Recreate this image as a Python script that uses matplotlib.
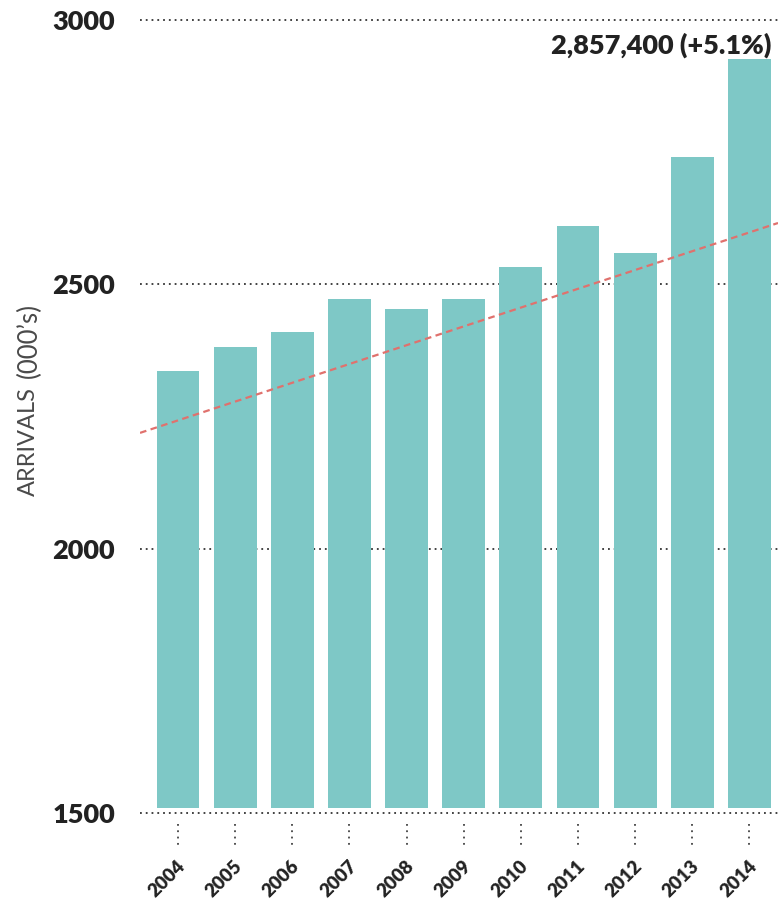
import matplotlib
matplotlib.use('Agg')
import matplotlib.pyplot as plt
import matplotlib.transforms as mtransforms
import numpy as np

# ---- data ----
years = ['2004', '2005', '2006', '2007', '2008', '2009', '2010', '2011', '2012', '2013', '2014']
arrivals = [2336, 2382, 2409, 2472, 2453, 2472, 2533, 2610, 2560, 2741, 2926]
trend_x = [-0.665, 10.5]
trend_y = [2219, 2616]
yticks = [1500, 2000, 2500, 3000]
ytick_labels = ['1500', '2000', '2500', '3000']
annotation = '2,857,400 (+5.1%)'
ylabel_main = 'ARRIVALS'
ylabel_sub = "(000’s)"

plt.rcParams['font.family'] = ['Lato', 'DejaVu Sans']

W, H = 778, 901
fig = plt.figure(figsize=(W / 100, H / 100), dpi=100)
ax_left, ax_right, ax_top, ax_bot = 140, 778, 20, 813
ax = fig.add_axes([ax_left / W, 1 - ax_bot / H, (ax_right - ax_left) / W, (ax_bot - ax_top) / H])

x = np.arange(len(years))
base = 1510
ax.bar(x, np.array(arrivals) - base, bottom=base, width=0.75, color='#7ec8c6', zorder=2)

ax.set_xlim(-0.665, 10.5)
ax.set_ylim(1500, 3000)

# dotted gridlines
for yv in yticks:
    ax.axhline(yv, color='#333333', linestyle=(0, (1, 2.2)), linewidth=1.3, zorder=1, clip_on=False)

# trend line
ax.plot(trend_x, trend_y, color='#e0716d', linestyle=(0, (3, 2)), linewidth=1.6, zorder=3)

for s in ax.spines.values():
    s.set_visible(False)

ax.set_yticks(yticks)
ax.set_yticklabels(ytick_labels, fontsize=19.5, fontweight='heavy', color='#222222')
ax.tick_params(axis='y', length=0, pad=18)
ax.set_xticks([])

# x tick dotted marks and rotated labels
trans = mtransforms.blended_transform_factory(ax.transData, ax.transAxes)
axh = ax_bot - ax_top
for xi, yr in zip(x, years):
    ax.plot([xi, xi], [-(11 / axh), -(35 / axh)], transform=trans, color='#444444',
            linestyle=(0, (1, 2.5)), linewidth=1.3, clip_on=False)
    ax.text(xi + 0.08, -(50 / axh), yr, transform=trans, rotation=45, rotation_mode='anchor',
            ha='right', va='center', fontsize=13.5, fontweight='heavy', color='#222222')

# annotation above last bar
ax.text(10.38, 2952, annotation, ha='right', va='center', fontsize=19.5, fontweight='heavy',
        color='#222222')

# y label (two parts)
fig.text(28 / W, 1 - 442 / H, ylabel_main, rotation=90, ha='center', va='center',
         fontsize=17, fontweight='normal', color='#4a4a4a')
fig.text(29 / W, 1 - 340 / H, ylabel_sub, rotation=90, ha='center', va='center',
         fontsize=18.5, fontweight='normal', color='#4a4a4a')

fig.savefig('out.png', dpi=100, facecolor='white')
